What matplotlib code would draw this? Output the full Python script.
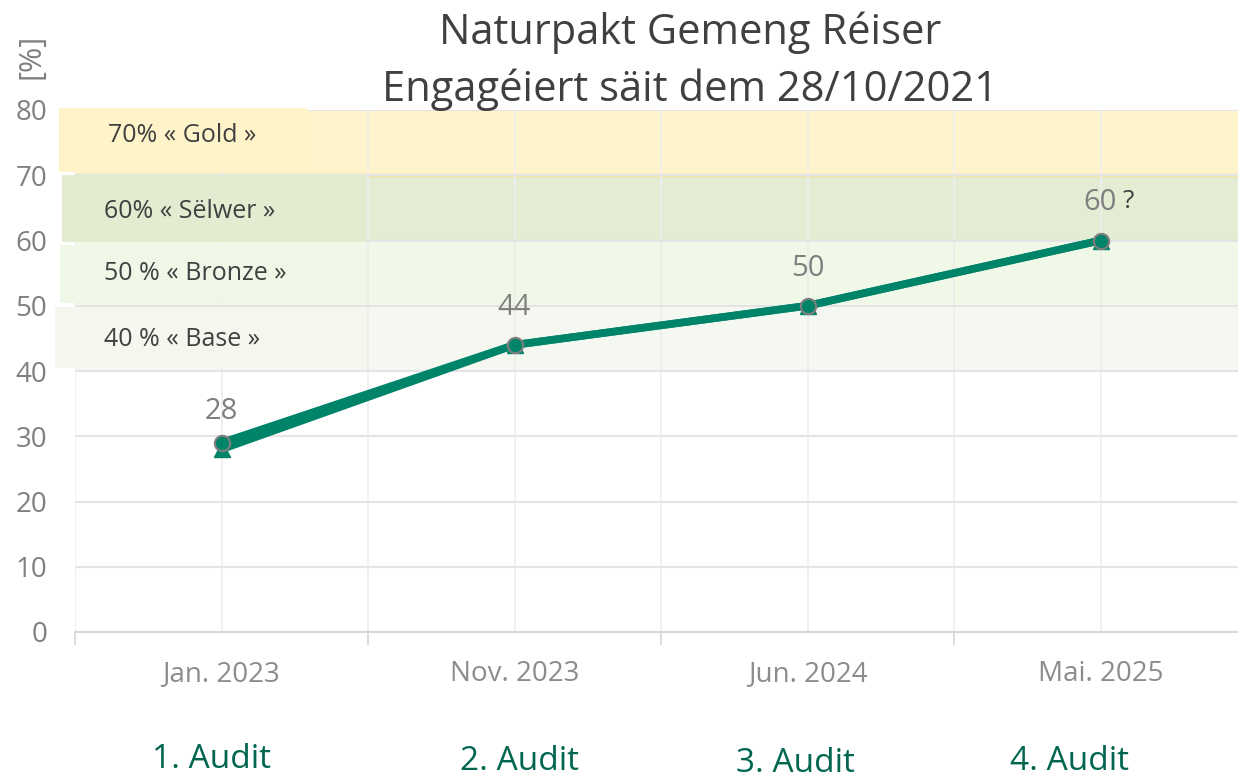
import matplotlib
matplotlib.use("Agg")
import matplotlib.pyplot as plt
from matplotlib.patches import Rectangle

plt.rcParams['font.family'] = ['Open Sans', 'DejaVu Sans']

# ---- data ----
dates = ["Jan. 2023", "Nov. 2023", "Jun. 2024", "Mai. 2025"]
audits = ["1. Audit", "2. Audit", "3. Audit", "4. Audit"]
score_main = [28, 44, 50, 60]
score_second = [29, 44, 50, 60]
point_labels = ["28", "44", "50", "60"]
band_names = ["70% « Gold »", "60% « Sëlwer »", "50 % « Bronze »", "40 % « Base »"]
band_low = [70, 60, 50, 40]
band_high = [80, 70, 60, 50]
band_colors = ["#FFF3CC", "#E2EDD3", "#F0F8E8", "#F5F8F0"]
label_box_colors = ["#FFF3CA", "#E1ECD1", "#EFF7E7", "#F4F7EE"]
yticks = [0, 10, 20, 30, 40, 50, 60, 70, 80]

W, H = 1238, 780
fig = plt.figure(figsize=(W / 100, H / 100), dpi=100)
ax = fig.add_axes([75 / W, 1 - 632 / H, (1247 - 75) / W, (632 - 110) / H])

x = list(range(len(dates)))
ax.set_xlim(-0.5, len(dates) - 0.5)
ax.set_ylim(0, 80)

# bands
for lo, hi, c in zip(band_low, band_high, band_colors):
    ax.axhspan(lo, hi, color=c, zorder=0, lw=0)
ax.axhline(70, color="#F3E6A6", lw=2.5, zorder=0.5)

# grid
ax.set_yticks(yticks)
ax.set_xticks([i - 0.5 for i in range(len(dates) + 1)])
ax.set_xticks(x, minor=True)
ax.set_xticklabels([""] * (len(dates) + 1))
ax.set_xticklabels(dates, minor=True)
ax.grid(True, which="both", axis="x", color="#EDEDED", lw=1.2, zorder=1)
ax.grid(True, which="major", axis="y", color="#E4E4E4", lw=1.5, zorder=1)
ax.set_axisbelow(True)

for s in ["top", "right", "left"]:
    ax.spines[s].set_visible(False)
ax.spines["bottom"].set_color("#D9D9D9")
ax.spines["bottom"].set_linewidth(1.5)

ax.tick_params(axis="y", length=0, pad=20, labelsize=20, labelcolor="#808080")
ax.tick_params(axis="x", which="major", length=9, width=1.3, color="#D9D9D9")
ax.tick_params(axis="x", which="minor", length=0, pad=20, labelsize=20, labelcolor="#8C8C8C")

# line series
line_c = "#008469"
ax.plot(x, score_second, color=line_c, lw=5.5, marker="o", ms=11,
        markerfacecolor=line_c, markeredgecolor="#7F7F7F", markeredgewidth=1.5,
        zorder=4, solid_capstyle="round")
ax.plot(x, score_main, color=line_c, lw=5.5, marker="^", ms=12,
        markerfacecolor=line_c, markeredgecolor=line_c, zorder=3,
        solid_capstyle="round")

# data labels
for xi, yi, lab in zip(x, score_main, point_labels):
    ax.annotate(lab, (xi, yi), xytext=(0, 27), textcoords="offset points",
                ha="center", va="center", fontsize=21, color="#7F7F7F", zorder=6)
ax.annotate("?", (x[-1], score_main[-1]), xytext=(16, 28), textcoords="offset points",
            ha="left", va="center", fontsize=19, color="#404040", zorder=6)

# band label boxes (extend left of plot)
boxes = [(59, 108, 307, 172), (62, 175, 367, 242), (60, 245, 367, 303), (55, 307, 367, 368)]
label_pos = [(108, 135), (104, 211), (104, 274), (104, 340)]
for (x0, y0, x1, y1), c, name, (tx, ty) in zip(boxes, label_box_colors, band_names, label_pos):
    fig.patches.append(Rectangle((x0 / W, 1 - y1 / H), (x1 - x0) / W, (y1 - y0) / H,
                                 transform=fig.transFigure, facecolor=c, lw=0, zorder=0.8))
    fig.text(tx / W, 1 - ty / H, name, ha="left", va="center", fontsize=18,
             color="#404040", zorder=5)

# title
fig.text(690 / W, 1 - 33 / H, "Naturpakt Gemeng Réiser", ha="center", va="center",
         fontsize=30, color="#404040")
fig.text(690 / W, 1 - 90 / H, "Engagéiert säit dem 28/10/2021", ha="center", va="center",
         fontsize=30, color="#404040")

# y unit label
fig.text(31 / W, 1 - 56 / H, "[%]", rotation=90, ha="center", va="center",
         fontsize=22, color="#808080")

# audit labels
audit_pos = [(212, 760), (519, 761), (795, 763), (1070, 762)]
for lab, (tx, ty) in zip(audits, audit_pos):
    fig.text(tx / W, 1 - ty / H, lab, ha="center", va="center", fontsize=24,
             color="#006650")

fig.savefig("out.png", dpi=100)
